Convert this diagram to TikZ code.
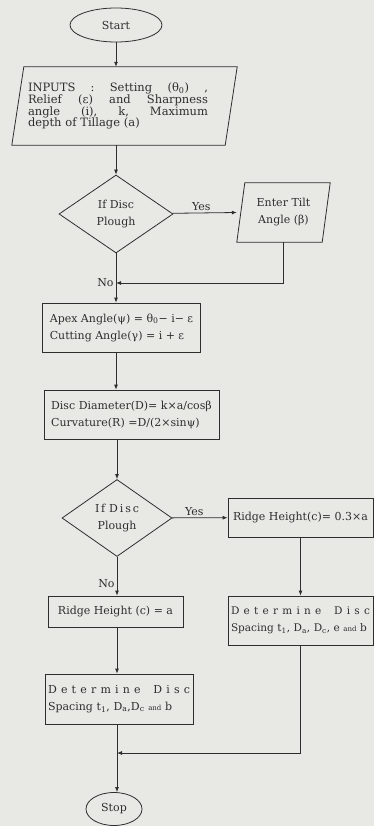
\documentclass[tikz,border=0pt]{standalone}
\usepackage{fontspec}
\setmainfont{DejaVu Serif}
\usetikzlibrary{positioning, arrows.meta, shapes.geometric}
\definecolor{scan}{HTML}{E8E8E5}
\definecolor{ink}{HTML}{2E2E2E}

\begin{document}
\begin{tikzpicture}[
    x=1pt, y=-1pt,
    every node/.style={font=\fontsize{11}{17}\selectfont, text=ink},
    term/.style={draw=ink, line width=0.8pt, ellipse, inner sep=0pt},
    proc/.style={draw=ink, line width=0.8pt, align=left, inner xsep=3pt},
    iobox/.style={align=left, inner sep=0pt},
    outline/.style={draw=ink, line width=0.8pt, line join=miter},
    decide/.style={draw=ink, line width=0.8pt, diamond, inner sep=0pt,
                   align=center},
    flow/.style={draw=ink, line width=0.8pt, -{Latex[length=5pt, width=4pt]}},
    lbl/.style={font=\fontsize{11}{12}\selectfont, inner sep=2pt},
  ]
  \useasboundingbox (0,0) rectangle (374,826);
  \fill[scan] (0,0) rectangle (374,826);

  % main column
  \node[term, minimum width=92pt, minimum height=34pt] (start) at (116,25) {Start};
  \node[iobox, text width=180pt, minimum width=200pt, minimum height=78pt,
        font=\fontsize{11.5}{11.7}\selectfont] (inp) at (118,106)
    {\makebox[180pt][s]{INPUTS\hfil:\hfil Setting\hfil (θ\textsubscript{0})\hfil ,}\\
     \makebox[180pt][s]{Relief\hfil (ε)\hfil and\hfil Sharpness}\\
     \makebox[180pt][s]{angle\hfil (i),\hfil k,\hfil Maximum}\\
     depth of Tillage (a)};
  \draw[outline] ([xshift=6pt]inp.north west) -- ([xshift=19pt]inp.north east)
    -- ([xshift=7pt]inp.south east) -- ([xshift=-6pt]inp.south west) -- cycle;
  \node[decide, minimum width=114pt, minimum height=78pt] (d1) at (116,214)
    {If Disc\\Plough};
  \node[iobox, minimum width=85pt, minimum height=59pt, align=center]
    (tilt) at (283.5,212.5) {Enter Tilt\\Angle (β)};
  \draw[outline] ([xshift=4pt]tilt.north west) -- ([xshift=4pt]tilt.north east)
    -- ([xshift=-4pt]tilt.south east) -- ([xshift=-4pt]tilt.south west) -- cycle;
  \coordinate (j1) at (116,283);
  \node[proc, minimum width=158pt, minimum height=49pt] (apex) at (121.5,327.5)
    {Apex Angle(ψ) = θ\textsubscript{0}− i− ε\\Cutting Angle(γ) = i + ε};
  \node[proc, minimum width=175pt, minimum height=49pt] (disc) at (131.5,414.5)
    {Disc Diameter(D)= k×a/cosβ\\Curvature(R) =D/(2×sinψ)};
  \node[decide, minimum width=110pt, minimum height=77pt] (d2) at (117,518)
    {\makebox[44pt][s]{I\hfil f\hfil\hfil D\hfil i\hfil s\hfil c}\\Plough};
  \node[proc, minimum width=135pt, minimum height=31pt] (ridgeN) at (115.5,611.5)
    {Ridge Height (c) = a};
  \node[proc, text width=142pt, minimum height=50pt] (spcN) at (119,699)
    {\makebox[142pt][s]{D\hfil e\hfil t\hfil e\hfil r\hfil m\hfil i\hfil n\hfil
       e\hfil\hfil\hfil D\hfil i\hfil s\hfil c}\\
     Spacing t\textsubscript{1}, D\textsubscript{a},D\textsubscript{c}
     {\fontsize{7}{7}\selectfont and} b};
  \coordinate (j2) at (117,753);
  \node[term, minimum width=56pt, minimum height=33pt] (stop) at (114,809) {Stop};

  % right column
  \node[proc, minimum width=145pt, minimum height=39pt] (ridgeY) at (300.5,517.5)
    {Ridge Height(c)= 0.3×a};
  \node[proc, text width=139pt, minimum height=49pt,
        font=\fontsize{10.5}{17}\selectfont] (spcY) at (300.5,620.5)
    {\makebox[139pt][s]{D\hfil e\hfil t\hfil e\hfil r\hfil m\hfil i\hfil n\hfil
       e\hfil\hfil\hfil D\hfil i\hfil s\hfil c}\\
     Spacing t\textsubscript{1}, D\textsubscript{a}, D\textsubscript{c}, e
     {\fontsize{7}{7}\selectfont and} b};

  % connectors
  \draw[flow] (start) -- (start |- inp.north);
  \draw[flow] (d1 |- inp.south) -- (d1);
  \draw[flow] (d1) -- ([xshift=-4pt]tilt.west) node[lbl, above, pos=0.45] (yes1) {Yes};
  \draw[flow] (d1) -- (d1 |- apex.north) node[lbl, left, pos=0.6] (no1) {No};
  \draw[flow] (tilt) |- (j1);
  \draw[flow] (apex.south -| d1) -- (disc.north -| d1);
  \draw[flow] (disc.south -| d2) -- (d2);
  \draw[flow] (d2) -- (ridgeY) node[lbl, above, pos=0.4] (yes2) {Yes};
  \draw[flow] (d2) -- (d2 |- ridgeN.north) node[lbl, left, pos=0.7] (no2) {No};
  \draw[flow] (ridgeY) -- (spcY);
  \draw[flow] (ridgeN.south -| d2) -- (spcN.north -| d2);
  \draw[flow] (spcN.south -| j2) -- (j2 |- stop.north);
  \draw[flow] (spcY) |- (j2);
\end{tikzpicture}
\end{document}
